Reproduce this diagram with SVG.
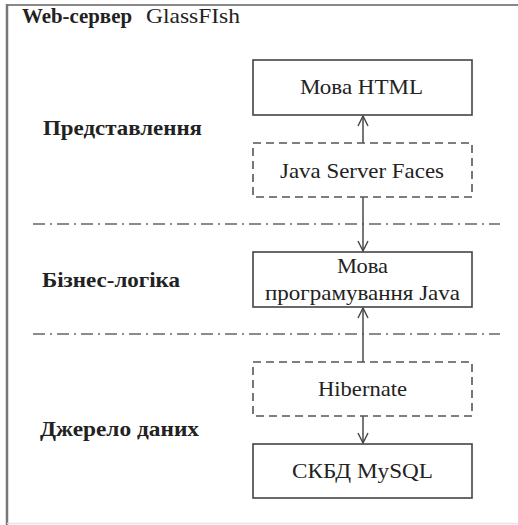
<svg xmlns="http://www.w3.org/2000/svg" width="518" height="525" viewBox="0 0 518 525">
<defs>
<style>
text{font-family:"Liberation Serif","Times New Roman",serif;fill:#222;font-size:21px;}
.lbl{font-weight:bold;}
.box{fill:#fff;stroke:#444;stroke-width:1.6;}
.dbox{fill:#fff;stroke:#555;stroke-width:1.6;stroke-dasharray:8 5;}
.sep{stroke:#666;stroke-width:1.6;stroke-dasharray:12 5 2 5;fill:none;}
.con{stroke:#555;stroke-width:1.6;fill:none;}
</style>
<marker id="ah" viewBox="0 0 12 12" refX="11" refY="6" markerWidth="12" markerHeight="12" markerUnits="userSpaceOnUse" orient="auto">
<path d="M1,1 L11,6 L1,11" fill="none" stroke="#444" stroke-width="1.4"/>
</marker>
</defs>
<rect width="518" height="525" fill="#fff"/>
<g id="frame">
<line x1="7" y1="5" x2="518" y2="5" stroke="#888" stroke-width="2"/>
<line x1="7" y1="4" x2="7" y2="525" stroke="#777" stroke-width="2.5"/>
<line x1="7" y1="523.5" x2="518" y2="523.5" stroke="#e4e4e4" stroke-width="1.5"/>
<text class="lbl" x="22" y="23" textLength="110" lengthAdjust="spacingAndGlyphs">Web-сервер</text>
<text x="146" y="23" textLength="94" lengthAdjust="spacingAndGlyphs">GlassFIsh</text>
</g>
<g id="separators">
<line class="sep" x1="33" y1="224" x2="500" y2="224"/>
<line class="sep" x1="33" y1="334" x2="500" y2="334"/>
</g>
<g id="layer-labels">
<text class="lbl" x="43" y="135" textLength="159" lengthAdjust="spacingAndGlyphs">Представлення</text>
<text class="lbl" x="42" y="287" textLength="138" lengthAdjust="spacingAndGlyphs">Бізнес-логіка</text>
<text class="lbl" x="40" y="436" textLength="159" lengthAdjust="spacingAndGlyphs">Джерело даних</text>
</g>
<g id="connectors">
<line class="con" x1="363" y1="143" x2="363" y2="116" marker-end="url(#ah)"/>
<line class="con" x1="363" y1="197" x2="363" y2="251" marker-end="url(#ah)"/>
<line class="con" x1="363" y1="362" x2="363" y2="308" marker-end="url(#ah)"/>
<line class="con" x1="363" y1="416" x2="363" y2="443" marker-end="url(#ah)"/>
</g>
<g id="html">
<rect class="box" x="253" y="60" width="219" height="55"/>
<text x="300" y="94" textLength="123" lengthAdjust="spacingAndGlyphs">Мова HTML</text>
</g>
<g id="jsf">
<rect class="dbox" x="253" y="143" width="219" height="54"/>
<text x="280" y="178" textLength="164" lengthAdjust="spacingAndGlyphs">Java Server Faces</text>
</g>
<g id="java">
<rect class="box" x="253" y="252" width="219" height="55"/>
<text x="337" y="273" textLength="51" lengthAdjust="spacingAndGlyphs">Мова</text>
<text x="265" y="300" textLength="195" lengthAdjust="spacingAndGlyphs">програмування Java</text>
</g>
<g id="hibernate">
<rect class="dbox" x="253" y="362" width="219" height="54"/>
<text x="318" y="396" textLength="89" lengthAdjust="spacingAndGlyphs">Hibernate</text>
</g>
<g id="mysql">
<rect class="box" x="253" y="444" width="219" height="54"/>
<text x="292" y="478" textLength="141" lengthAdjust="spacingAndGlyphs">СКБД MySQL</text>
</g>
</svg>
